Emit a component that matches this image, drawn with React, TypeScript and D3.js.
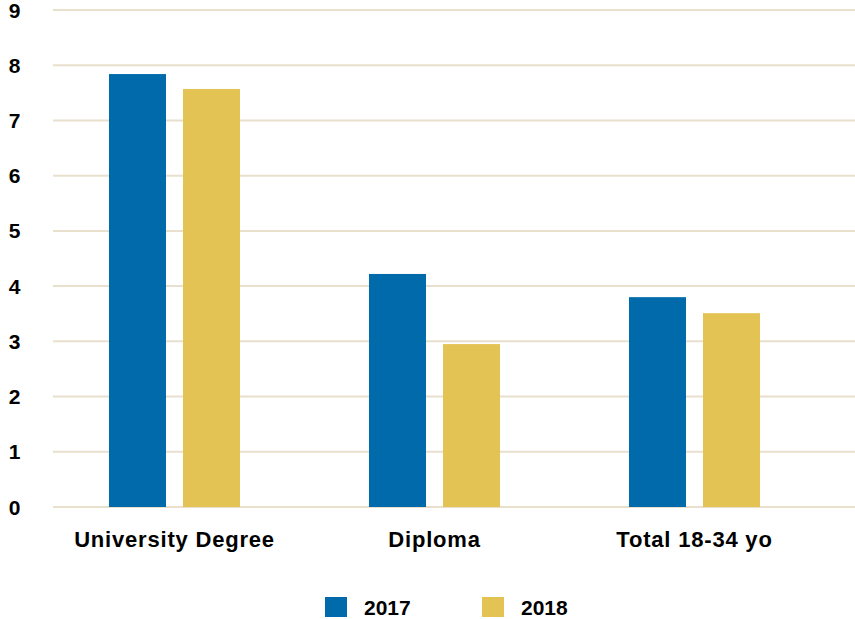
import React from "react";
import * as d3 from "d3";

const categories = ["University Degree", "Diploma", "Total 18-34 yo"];
const years = ["2017", "2018"];
const values2017 = [7.84, 4.22, 3.8];
const values2018 = [7.57, 2.95, 3.51];
const yTicks = [0, 1, 2, 3, 4, 5, 6, 7, 8, 9];
const colors = ["#006aab", "#e3c353"];

const W = 855;
const H = 619;

export default function App() {
  const series = [values2017, values2018];
  const y = d3.scaleLinear().domain([0, 9]).range([507, 10]);
  const pi = 0.496;
  const x0 = d3.scaleBand<string>().domain(categories).range([44.5, 824.5]).paddingInner(pi).paddingOuter(pi / 2);
  const x1 = d3.scaleBand<string>().domain(years).range([0, x0.bandwidth()]).paddingInner(17 / 74).paddingOuter(0);
  const font = "'Liberation Sans', Arial, Helvetica, sans-serif";
  return (
    <svg width={W} height={H} style={{ position: "absolute", left: 0, top: 0, display: "block" }} fontFamily={font}>
      <rect width={W} height={H} fill="#fff" />
      {yTicks.map((t) => (
        <g key={t}>
          <line x1={53} x2={W} y1={y(t)} y2={y(t)} stroke="#e8e0cd" strokeWidth={2} />
          <text x={14.5} y={y(t)} dy="0.36em" textAnchor="middle" fontSize={21} fontWeight="bold" fill="#000">
            {t}
          </text>
        </g>
      ))}
      {categories.map((c, i) => (
        <g key={c} transform={`translate(${x0(c)},0)`}>
          {years.map((yr, j) => (
            <rect
              key={yr}
              x={x1(yr)}
              y={y(series[j][i])}
              width={x1.bandwidth()}
              height={y(0) - y(series[j][i])}
              fill={colors[j]}
            />
          ))}
          <text
            x={x0.bandwidth() / 2}
            y={547}
            textAnchor="middle"
            fontSize={22}
            fontWeight="bold"
            letterSpacing={0.8}
            fill="#000"
          >
            {c}
          </text>
        </g>
      ))}
      {years.map((yr, j) => (
        <g key={yr} transform={`translate(${325 + j * 157},0)`}>
          <rect x={0} y={597} width={22} height={20} fill={colors[j]} />
          <text x={39} y={615} fontSize={21} fontWeight="bold" fill="#000">
            {yr}
          </text>
        </g>
      ))}
    </svg>
  );
}
